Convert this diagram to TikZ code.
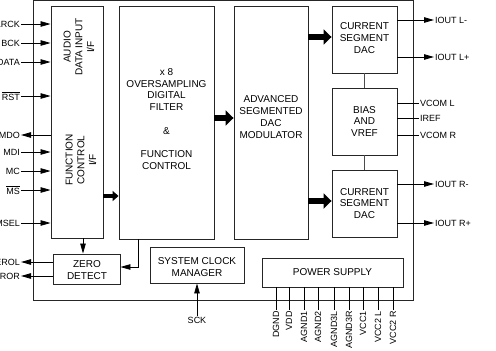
\documentclass[tikz,border=0pt]{standalone}
\usepackage{fontspec}
\setmainfont{Liberation Sans}
\usetikzlibrary{arrows.meta}
\begin{document}
\begin{tikzpicture}[x=1pt,y=-1pt,
  blk/.style={draw=black!85, line width=0.9pt, inner sep=0pt},
  btxt/.style={font=\fontsize{10}{11.75}\selectfont, align=center, inner sep=0pt},
  lbl/.style={font=\fontsize{9}{10}\selectfont, inner sep=1pt},
  arr/.style={line width=0.8pt, -{Triangle[length=10pt,width=5.5pt]}},
  wire/.style={line width=0.8pt},
  fat/.style={line width=6pt, -{Triangle[length=8pt,width=15pt]}},
  fatsm/.style={line width=3.5pt, -{Triangle[length=6pt,width=10pt]}}]
\useasboundingbox (0,0) rectangle (496,351);
% outer frame
\node[blk, minimum width=380pt, minimum height=299.5pt] (chip) at (223,150.25) {};
% blocks
\node[blk, minimum width=52pt, minimum height=232pt] (ifb) at (77,122) {};
\node[blk, minimum width=95pt, minimum height=233pt] (flt) at (166.5,122.5) {};
\node[blk, minimum width=74pt, minimum height=233pt] (mod) at (271,122.5) {};
\node[blk, minimum width=65pt, minimum height=67pt] (dacl) at (364.5,39.5) {};
\node[blk, minimum width=65pt, minimum height=67pt] (bias) at (364.5,121.5) {};
\node[blk, minimum width=65pt, minimum height=67pt] (dacr) at (364.5,203.5) {};
\node[blk, minimum width=67pt, minimum height=30pt] (zd) at (86.5,269) {};
\node[blk, minimum width=94pt, minimum height=36pt] (scm) at (197,265) {};
\node[blk, minimum width=141pt, minimum height=29pt] (pwr) at (332.5,272.5) {};
% block texts
\node[btxt, rotate=90] (tadi) at (79,47) {AUDIO\\DATA INPUT\\I/F};
\node[btxt, rotate=90] (tfci) at (81,160) {FUNCTION\\CONTROL\\I/F};
\node[btxt] (tflt) at (166.5,119) {x 8\\OVERSAMPLING\\DIGITAL\\FILTER\\[11.75pt]\&\\[11.75pt]FUNCTION\\CONTROL};
\node[btxt] (tmod) at (271,117) {ADVANCED\\SEGMENTED\\DAC\\MODULATOR};
\node[btxt] (tdacl) at (364.5,38) {CURRENT\\SEGMENT\\DAC};
\node[btxt] (tbias) at (364.5,121.5) {BIAS\\AND\\VREF};
\node[btxt] (tdacr) at (364.5,203.5) {CURRENT\\SEGMENT\\DAC};
\node[btxt] (tzd) at (87,270) {ZERO\\DETECT};
\node[btxt] (tscm) at (197,267) {SYSTEM CLOCK\\MANAGER};
\node[btxt] (tpwr) at (332.5,272) {POWER SUPPLY};
% left pins
\node[lbl, anchor=east] (lrck) at (21,24) {LRCK};
\node[lbl, anchor=east] (bck) at (21,43) {BCK};
\node[lbl, anchor=east] (data) at (21,62) {DATA};
\node[lbl, anchor=east] (rst) at (21,96) {$\overline{\mbox{RST}}$};
\node[lbl, anchor=east] (mdo) at (21,135) {MDO};
\node[lbl, anchor=east] (mdi) at (21,152) {MDI};
\node[lbl, anchor=east] (mc) at (21,171) {MC};
\node[lbl, anchor=east] (ms) at (21,190) {$\overline{\mbox{MS}}$};
\node[lbl, anchor=east] (msel) at (21,223) {MSEL};
\node[lbl, anchor=east] (zerol) at (21,262) {ZEROL};
\node[lbl, anchor=east] (zeror) at (21,276) {ZEROR};
\foreach \n in {lrck,bck,data,rst,mdi,mc,ms,msel}
  \draw[arr] (\n.east) -- (\n.east -| ifb.west);
\draw[arr] (mdo.east -| ifb.west) -- (mdo.east);
\draw[arr] (zerol.east -| zd.west) -- (zerol.east);
\draw[arr] (zeror.east -| zd.west) -- (zeror.east);
% right pins
\node[lbl, anchor=west] (ioutlm) at (434,20) {IOUT L-};
\node[lbl, anchor=west] (ioutlp) at (434,57) {IOUT L+};
\node[lbl, anchor=west] (vcoml) at (419,103) {VCOM L};
\node[lbl, anchor=west] (iref) at (419,118) {IREF};
\node[lbl, anchor=west] (vcomr) at (419,135) {VCOM R};
\node[lbl, anchor=west] (ioutrm) at (434,184) {IOUT R-};
\node[lbl, anchor=west] (ioutrp) at (434,223) {IOUT R+};
\draw[arr] (ioutlm.west -| dacl.east) -- (ioutlm.west);
\draw[arr] (ioutlp.west -| dacl.east) -- (ioutlp.west);
\draw[arr] (ioutrm.west -| dacr.east) -- (ioutrm.west);
\draw[arr] (ioutrp.west -| dacr.east) -- (ioutrp.west);
\foreach \n in {vcoml,iref,vcomr}
  \draw[wire] (\n.west -| bias.east) -- (\n.west);
% DAC/bias links
\draw[wire, black!70] (dacl.south) -- (bias.north);
\draw[wire, black!70] (bias.south) -- (dacr.north);
% fat arrows
\draw[fatsm] (ifb.east |- 0,196) -- (flt.west |- 0,196);
\draw[fat] (flt.east |- 0,118) -- (mod.west |- 0,118);
\draw[fat] (mod.east |- 0,37) -- (dacl.west |- 0,37);
\draw[fat] (mod.east |- 0,201) -- (dacr.west |- 0,201);
% zero detect feeds
\draw[arr] (ifb.south -| 83,0) -- (zd.north -| 83,0);
\draw[wire, -{Triangle[length=10pt,width=5.5pt]}] (flt.south -| 138,0) |- (zd.east |- 0,267);
% SCK
\node[lbl] (sck) at (197,320) {SCK};
\draw[arr] (sck.north -| scm.south) -- (scm.south);
% power pins
\foreach \x/\t/\nm in {276/DGND/p1,289/VDD/p2,304/AGND1/p3,318/AGND2/p4,334/AGND3L/p5,349/AGND3R/p6,363/VCC1/p7,378/VCC2 L/p8,393/VCC2 R/p9}{
  \node[lbl, rotate=90, anchor=east] (\nm) at (\x,310) {\t};
  \draw[wire] (\nm.east) -- (\nm.east |- pwr.south);
}
\end{tikzpicture}
\end{document}
